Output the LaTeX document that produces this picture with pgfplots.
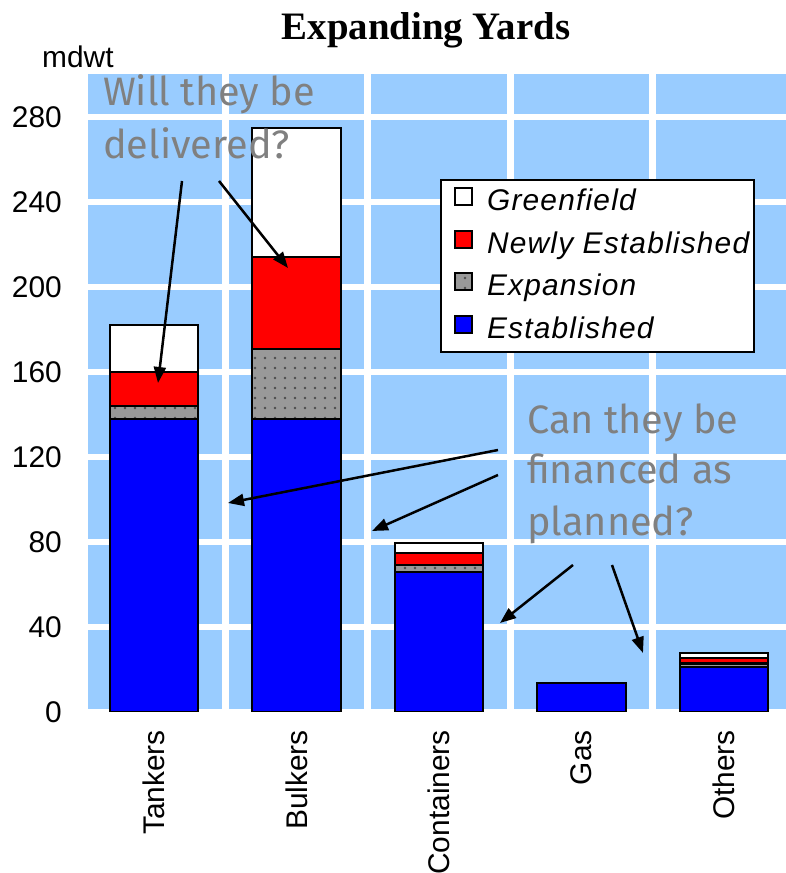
\documentclass[border=0pt]{standalone}
\usepackage{pgfplots}
\usepackage{pgfplotstable}
\pgfplotsset{compat=1.18}
\usepackage{fontspec}
\setmainfont{Liberation Sans}
\newfontfamily\titlefont{Liberation Serif}
\newfontfamily\annfont{Fira Sans}
\usetikzlibrary{patterns,arrows.meta}
\definecolor{bgblue}{HTML}{99CCFF}
\definecolor{barblue}{HTML}{0000FF}
\definecolor{barred}{HTML}{FF0000}
\definecolor{bargray}{HTML}{999999}
\definecolor{anngray}{HTML}{808080}
\pgfdeclarepatternformonly{sparsedots}{\pgfqpoint{-1bp}{-1bp}}{\pgfqpoint{11bp}{11bp}}{\pgfqpoint{10bp}{10bp}}{\pgfpathcircle{\pgfqpoint{5bp}{5bp}}{1.3bp}\pgfusepath{fill}}

\pgfplotstableread{
x est exp new green
0 138 6 16 22
1 138 33 43 61
2 66 3 6 4.5
3 13.5 0 0 0
4 21.3 1.5 2.5 2.3
}\yards

\begin{document}
\begin{tikzpicture}
\path[use as bounding box] (0,0) rectangle (786bp,873bp);
\begin{axis}[
  at={(88bp,161bp)}, anchor=south west,
  scale only axis, width=698bp, height=637.5bp,
  xmin=-0.463, xmax=4.435, ymin=0, ymax=300,
  ybar stacked, bar width=0.62,
  axis background/.style={fill=bgblue},
  axis line style={draw=none},
  major tick length=0pt, minor tick length=0pt,
  xtick={0,1,2,3,4},
  xticklabels={Tankers,Bulkers,Containers,Gas,Others},
  minor xtick={0.5,1.5,2.5,3.5},
  xminorgrids=true, xmajorgrids=false,
  ytick={0,40,...,280}, ymajorgrids=true,
  major grid style={white, line width=6bp},
  minor grid style={white, line width=7bp},
  /pgf/number format/assume math mode=true,
  ticklabel style={font=\fontsize{30}{34}\selectfont},
  yticklabel style={inner sep=0pt, anchor=east},
  yticklabel shift=26bp,
  xticklabel style={rotate=90, anchor=east, inner sep=0pt},
  xticklabel shift=18bp,
  reverse legend,
  legend style={at={(0.5043,0.836)}, anchor=north west, draw=black, line width=2bp, fill=white,
    font=\itshape\fontsize{30}{34}\selectfont\addfontfeature{LetterSpace=4},
    inner xsep=5bp, inner ysep=7bp,
    nodes={inner sep=0bp, text height=22bp, text depth=7bp},
    row sep=12bp, column sep=14bp},
  legend cell align=left,
  legend image code/.code={\path (0bp,0bp); \draw[#1, line width=2bp] (8bp,-2bp) rectangle (25bp,15bp);},
]
\addplot[fill=barblue, draw=black, line width=2.2bp] table[x=x,y=est]{\yards};
\addplot[fill=bargray, draw=black, line width=2.2bp, postaction={pattern=sparsedots, pattern color=gray!60!black}] table[x=x,y=exp]{\yards};
\addplot[fill=barred, draw=black, line width=2.2bp] table[x=x,y=new]{\yards};
\addplot[fill=white, draw=black, line width=2.2bp] table[x=x,y=green]{\yards};
\legend{Established, Expansion, Newly Established, Greenfield}
\end{axis}
\begin{scope}[shift={(0bp,873bp)}, x=1bp, y=-1bp]
\node[anchor=base, inner sep=0pt, font=\titlefont\bfseries\fontsize{39}{42}\selectfont] at (426,40) {Expanding Yards};
\node[anchor=base west, inner sep=0pt, font=\fontsize{30}{34}\selectfont] at (42,68) {mdwt};
\begin{scope}[every node/.style={anchor=base west, inner sep=0pt, text=anngray, font=\annfont\fontsize{39.8}{44}\selectfont}]
\node at (103,106) {Will they be};
\node at (103,159) {delivered?};
\node at (527,434) {Can they be};
\node at (527,484) {financed as};
\node at (527,536) {planned?};
\end{scope}
\begin{scope}[line width=2.5bp, -{Triangle[length=16bp, width=12bp]}]
\draw (182,181) -- (158,383);
\draw (219,181) -- (288,268);
\draw (498,450) -- (228,503);
\draw (498,475) -- (372,531);
\draw (573,565) -- (500,623);
\draw (612,565) -- (643,653);
\end{scope}
\end{scope}
\end{tikzpicture}
\end{document}
